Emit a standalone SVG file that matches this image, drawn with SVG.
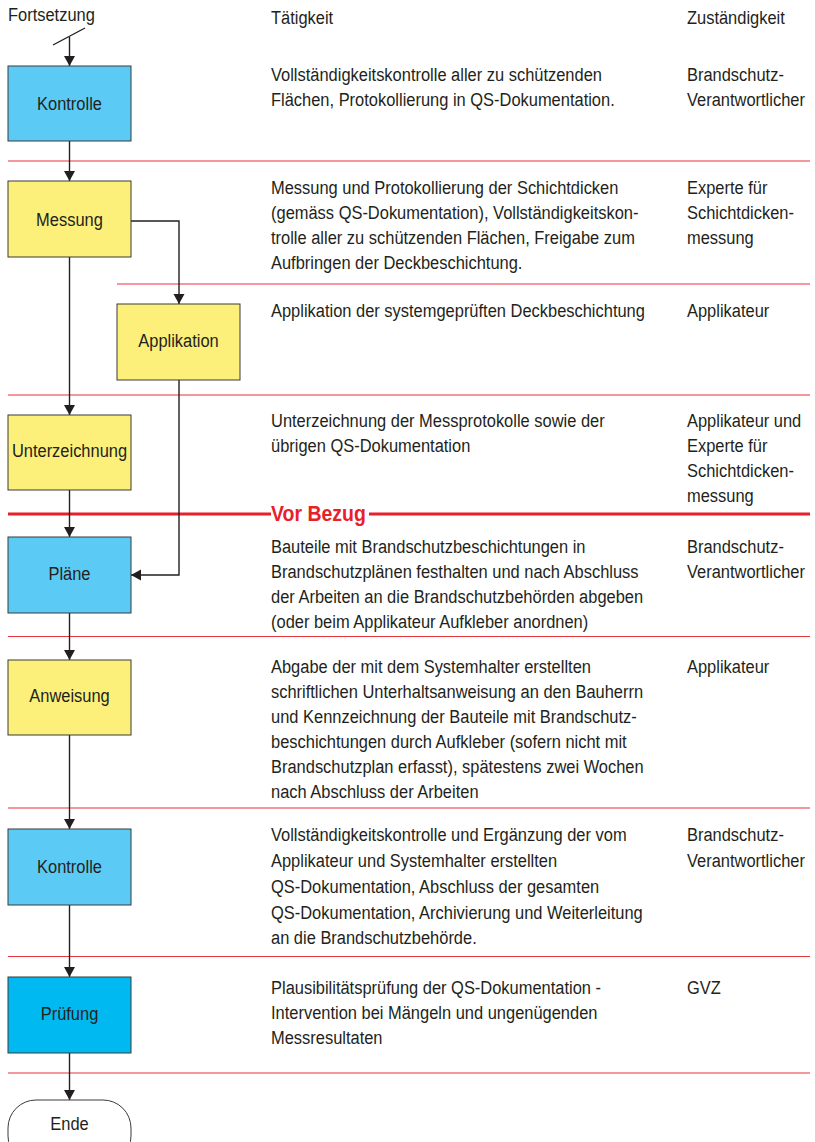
<svg xmlns="http://www.w3.org/2000/svg" width="815" height="1142" viewBox="0 0 815 1142">
<style>
text{font-family:"Liberation Sans",Arial,sans-serif;font-size:18.6px;fill:#231f20}
.lbl{text-anchor:middle}
.blue{fill:#5bcbf5;stroke:#3a3a3a;stroke-width:1}
.yel{fill:#fcf07a;stroke:#3a3a3a;stroke-width:1}
.dblue{fill:#00b9f0;stroke:#3a3a3a;stroke-width:1}
.sep{stroke:#e8333c;stroke-width:1.2;fill:none}
.sepb{stroke:#e8202a;stroke-width:3.2;fill:none}
.con{stroke:#231f20;stroke-width:1.4;fill:none}
.vb{fill:#e8202a;font-weight:bold;font-size:22px}
</style>
<defs>
<marker id="ah" markerWidth="12" markerHeight="12" refX="10" refY="5.5" orient="auto" markerUnits="userSpaceOnUse">
<path d="M0,0 L10,5.5 L0,11 Z" fill="#231f20"/>
</marker>
</defs>
<rect width="815" height="1142" fill="#ffffff"/>

<g id="headers">
<text x="8" y="21" transform="matrix(0.885,0,0,1,0.92,0)">Fortsetzung</text>
<text x="271" y="24" transform="matrix(0.885,0,0,1,31.17,0)">Tätigkeit</text>
<text x="687" y="24" transform="matrix(0.885,0,0,1,79.0,0)">Zuständigkeit</text>
</g>

<g id="separators">
<line class="sep" x1="8" y1="161" x2="810" y2="161"/>
<line class="sep" x1="117" y1="284" x2="810" y2="284"/>
<line class="sep" x1="8" y1="395" x2="810" y2="395"/>
<line class="sepb" x1="8" y1="514" x2="271" y2="514"/>
<line class="sepb" x1="369" y1="514" x2="810" y2="514"/>
<text class="vb" x="271" y="521.5" transform="matrix(0.885,0,0,1,31.17,0)">Vor Bezug</text>
<line class="sep" x1="8" y1="636.5" x2="810" y2="636.5"/>
<line class="sep" x1="8" y1="808" x2="810" y2="808"/>
<line class="sep" x1="8" y1="956.5" x2="810" y2="956.5"/>
<line class="sep" x1="8" y1="1073" x2="810" y2="1073"/>
</g>

<g id="connectors">
<line class="con" x1="53" y1="45" x2="85" y2="28"/>
<line class="con" x1="69.5" y1="37" x2="69.5" y2="66" marker-end="url(#ah)"/>
<line class="con" x1="69.5" y1="141" x2="69.5" y2="181" marker-end="url(#ah)"/>
<line class="con" x1="69.5" y1="257" x2="69.5" y2="415" marker-end="url(#ah)"/>
<polyline class="con" points="131,221 179,221 179,304" marker-end="url(#ah)"/>
<polyline class="con" points="179,380 179,575 131,575" marker-end="url(#ah)"/>
<line class="con" x1="69.5" y1="490" x2="69.5" y2="537" marker-end="url(#ah)"/>
<line class="con" x1="69.5" y1="613" x2="69.5" y2="660" marker-end="url(#ah)"/>
<line class="con" x1="69.5" y1="735" x2="69.5" y2="829" marker-end="url(#ah)"/>
<line class="con" x1="69.5" y1="905" x2="69.5" y2="977" marker-end="url(#ah)"/>
<line class="con" x1="69.5" y1="1053" x2="69.5" y2="1100" marker-end="url(#ah)"/>
</g>

<g id="n-kontrolle1">
<rect class="blue" x="8" y="66" width="123" height="75"/>
<text class="lbl" x="69.5" y="110" transform="matrix(0.885,0,0,1,7.99,0)">Kontrolle</text>
</g>
<g id="n-messung">
<rect class="yel" x="8" y="181" width="123" height="76"/>
<text class="lbl" x="69.5" y="226" transform="matrix(0.885,0,0,1,7.99,0)">Messung</text>
</g>
<g id="n-applikation">
<rect class="yel" x="117" y="304" width="123" height="76"/>
<text class="lbl" x="178.5" y="347" transform="matrix(0.885,0,0,1,20.53,0)">Applikation</text>
</g>
<g id="n-unterzeichnung">
<rect class="yel" x="8" y="415" width="123" height="75"/>
<text class="lbl" x="69.5" y="457" transform="matrix(0.885,0,0,1,7.99,0)">Unterzeichnung</text>
</g>
<g id="n-plaene">
<rect class="blue" x="8" y="537" width="123" height="76"/>
<text class="lbl" x="69.5" y="580" transform="matrix(0.885,0,0,1,7.99,0)">Pläne</text>
</g>
<g id="n-anweisung">
<rect class="yel" x="8" y="660" width="123" height="75"/>
<text class="lbl" x="69.5" y="702" transform="matrix(0.885,0,0,1,7.99,0)">Anweisung</text>
</g>
<g id="n-kontrolle2">
<rect class="blue" x="8" y="829" width="123" height="76"/>
<text class="lbl" x="69.5" y="873" transform="matrix(0.885,0,0,1,7.99,0)">Kontrolle</text>
</g>
<g id="n-pruefung">
<rect class="dblue" x="8" y="977" width="123" height="76"/>
<text class="lbl" x="69.5" y="1020" transform="matrix(0.885,0,0,1,7.99,0)">Prüfung</text>
</g>
<g id="n-ende">
<rect x="8" y="1100" width="123" height="64" rx="28" ry="28" fill="#ffffff" stroke="#3a3a3a" stroke-width="1"/>
<text class="lbl" x="69.5" y="1130" transform="matrix(0.885,0,0,1,7.99,0)">Ende</text>
</g>

<g id="t-row1">
<g transform="matrix(0.885,0,0,1,31.17,0)">
<text x="271" y="81">Vollständigkeitskontrolle aller zu schützenden</text>
<text x="271" y="106">Flächen, Protokollierung in QS-Dokumentation.</text>
</g>
<g transform="matrix(0.885,0,0,1,79.0,0)">
<text x="687" y="81">Brandschutz-</text>
<text x="687" y="106">Verantwortlicher</text>
</g>
</g>
<g id="t-row2">
<g transform="matrix(0.885,0,0,1,31.17,0)">
<text x="271" y="194">Messung und Protokollierung der Schichtdicken</text>
<text x="271" y="219">(gemäss QS-Dokumentation), Vollständigkeitskon-</text>
<text x="271" y="244">trolle aller zu schützenden Flächen, Freigabe zum</text>
<text x="271" y="269">Aufbringen der Deckbeschichtung.</text>
</g>
<g transform="matrix(0.885,0,0,1,79.0,0)">
<text x="687" y="194">Experte für</text>
<text x="687" y="219">Schichtdicken-</text>
<text x="687" y="244">messung</text>
</g>
</g>
<g id="t-row3">
<text x="271" y="317" transform="matrix(0.885,0,0,1,31.17,0)">Applikation der systemgeprüften Deckbeschichtung</text>
<text x="687" y="317" transform="matrix(0.885,0,0,1,79.0,0)">Applikateur</text>
</g>
<g id="t-row4">
<g transform="matrix(0.885,0,0,1,31.17,0)">
<text x="271" y="427">Unterzeichnung der Messprotokolle sowie der</text>
<text x="271" y="452">übrigen QS-Dokumentation</text>
</g>
<g transform="matrix(0.885,0,0,1,79.0,0)">
<text x="687" y="427">Applikateur und</text>
<text x="687" y="452">Experte für</text>
<text x="687" y="477">Schichtdicken-</text>
<text x="687" y="502">messung</text>
</g>
</g>
<g id="t-row5">
<g transform="matrix(0.885,0,0,1,31.17,0)">
<text x="271" y="553">Bauteile mit Brandschutzbeschichtungen in</text>
<text x="271" y="578">Brandschutzplänen festhalten und nach Abschluss</text>
<text x="271" y="603">der Arbeiten an die Brandschutzbehörden abgeben</text>
<text x="271" y="628">(oder beim Applikateur Aufkleber anordnen)</text>
</g>
<g transform="matrix(0.885,0,0,1,79.0,0)">
<text x="687" y="553">Brandschutz-</text>
<text x="687" y="578">Verantwortlicher</text>
</g>
</g>
<g id="t-row6">
<g transform="matrix(0.885,0,0,1,31.17,0)">
<text x="271" y="673">Abgabe der mit dem Systemhalter erstellten</text>
<text x="271" y="698">schriftlichen Unterhaltsanweisung an den Bauherrn</text>
<text x="271" y="723">und Kennzeichnung der Bauteile mit Brandschutz-</text>
<text x="271" y="748">beschichtungen durch Aufkleber (sofern nicht mit</text>
<text x="271" y="773">Brandschutzplan erfasst), spätestens zwei Wochen</text>
<text x="271" y="798">nach Abschluss der Arbeiten</text>
</g>
<text x="687" y="673" transform="matrix(0.885,0,0,1,79.0,0)">Applikateur</text>
</g>
<g id="t-row7">
<g transform="matrix(0.885,0,0,1,31.17,0)">
<text x="271" y="841">Vollständigkeitskontrolle und Ergänzung der vom</text>
<text x="271" y="867">Applikateur und Systemhalter erstellten</text>
<text x="271" y="893">QS-Dokumentation, Abschluss der gesamten</text>
<text x="271" y="919">QS-Dokumentation, Archivierung und Weiterleitung</text>
<text x="271" y="944">an die Brandschutzbehörde.</text>
</g>
<g transform="matrix(0.885,0,0,1,79.0,0)">
<text x="687" y="841">Brandschutz-</text>
<text x="687" y="867">Verantwortlicher</text>
</g>
</g>
<g id="t-row8">
<g transform="matrix(0.885,0,0,1,31.17,0)">
<text x="271" y="994">Plausibilitätsprüfung der QS-Dokumentation -</text>
<text x="271" y="1019">Intervention bei Mängeln und ungenügenden</text>
<text x="271" y="1044">Messresultaten</text>
</g>
<text x="687" y="994" transform="matrix(0.885,0,0,1,79.0,0)">GVZ</text>
</g>
</svg>
